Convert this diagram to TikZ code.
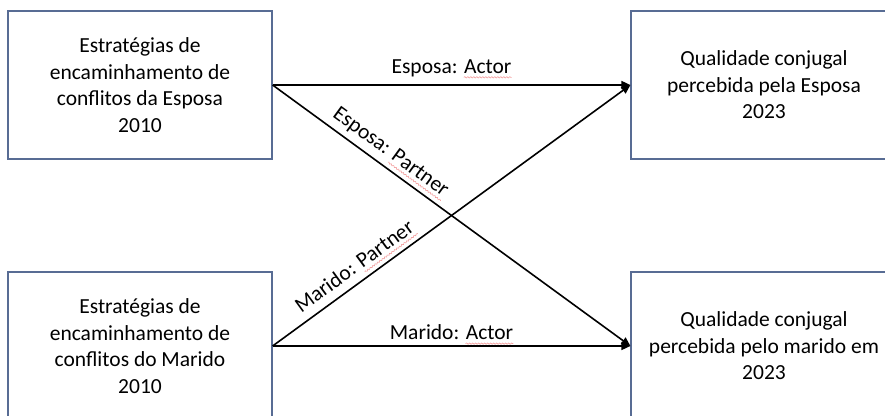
\documentclass[tikz,border=0pt]{standalone}
\usepackage{fontspec}
\setmainfont{Carlito}
\usetikzlibrary{positioning,arrows.meta,decorations.pathmorphing}
\definecolor{boxline}{RGB}{88,108,148}
\definecolor{spell}{RGB}{240,140,140}
\newcommand{\spellwave}[1]{\tikz[baseline=(w.base), x=1pt, y=1pt]{\node[inner sep=0pt, anchor=base, draw=none] (w) {#1};
    \draw[overlay, spell, line width=0.5pt, arrows=-, decorate, decoration={snake, amplitude=0.7pt, segment length=3pt}] ([yshift=-4pt]w.base west) -- ([yshift=-4pt]w.base east);}}
\tikzset{
    box/.style={draw=boxline, line width=1.2pt, minimum width=264, minimum height=148, align=center, inner sep=0pt},
    link/.style={line width=1.6pt, -{Triangle[length=9pt,width=8pt]}},
    lbl/.style={inner sep=2pt}
}

\begin{document}
\begin{tikzpicture}[x=1pt,y=-1pt,font=\fontsize{21.5}{26.5}\selectfont]
    \useasboundingbox (0,0) rectangle (885,415);
    \clip (0,0) rectangle (885,415);

    % Estrategias 2010
    \node[box] (EspE) at (140,85) {Estratégias de\\encaminhamento de\\conflitos da Esposa\\2010};
    \node[box] (MarE) at (140,346) {Estratégias de\\encaminhamento de\\conflitos do Marido\\2010};

    % Qualidade conjugal 2023
    \node[box, minimum width=266] (EspQ) at (764,85) {Qualidade conjugal\\percebida pela Esposa\\2023};
    \node[box, minimum width=266] (MarQ) at (764,346) {Qualidade conjugal\\percebida pelo marido em\\2023};

    % Actor effects
    \draw[link] (EspE.east) -- node[lbl, above=6pt] {Esposa: \spellwave{Actor}} (EspQ.west);
    \draw[link] (MarE.east) -- node[lbl, above=4pt] {Marido: \spellwave{Actor}} (MarQ.west);

    % Partner effects
    \draw[link] (EspE.east) -- node[lbl, pos=0.305, sloped, above=4pt] {Esposa: \spellwave{Partner}} (MarQ.west);
    \draw[link] (MarE.east) -- node[lbl, pos=0.255, sloped, above=7pt] {Marido: \spellwave{Partner}} (EspQ.west);

\end{tikzpicture}
\end{document}
